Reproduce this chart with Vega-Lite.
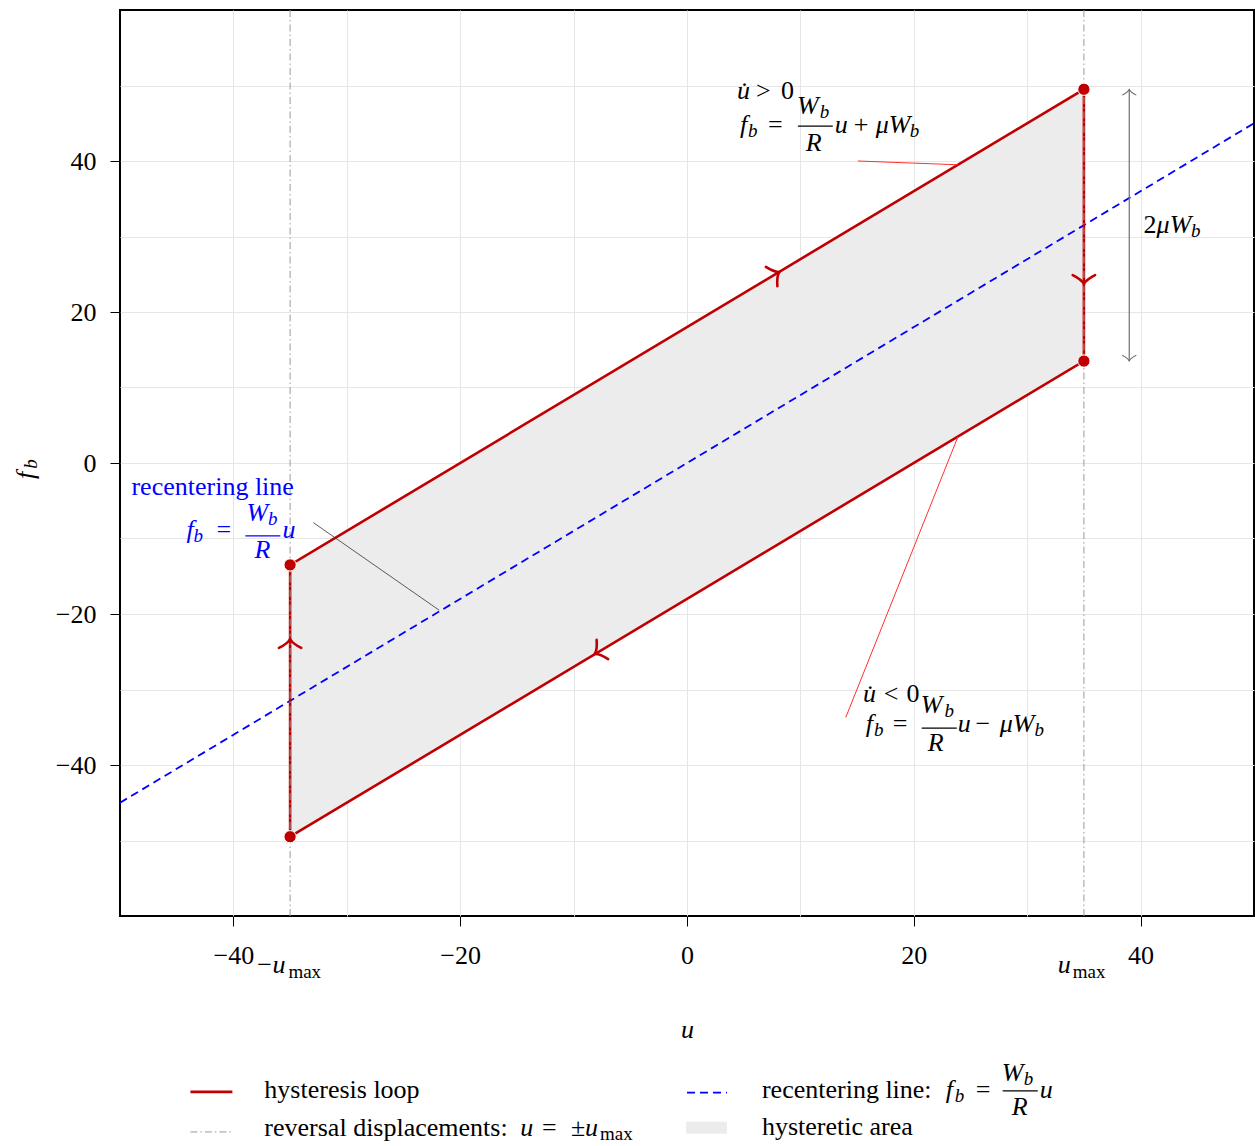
{
  "$schema": "https://vega.github.io/schema/vega-lite/v6.json",
  "width": 1134,
  "height": 906,
  "autosize": {"type": "none"},
  "padding": {"left": 120, "top": 10, "right": 1, "bottom": 230},
  "background": "white",
  "config": {
    "view": {"stroke": "black", "strokeWidth": 2},
    "font": "Liberation Serif",
    "axis": {"labelFont": "Liberation Serif", "titleFont": "Liberation Serif"},
    "text": {"font": "Liberation Serif"}
  },
  "datasets": {
    "band": [
      {"u": -35, "lower": -49.5, "upper": -13.5},
      {"u": 35, "lower": 13.5, "upper": 49.5}
    ],
    "loop": [
      {"step": 1, "u": -35, "f": -49.5},
      {"step": 2, "u": 35, "f": 13.5},
      {"step": 3, "u": 35, "f": 49.5},
      {"step": 4, "u": -35, "f": -13.5},
      {"step": 5, "u": -35, "f": -49.5}
    ],
    "recenter": [
      {"u": -50, "f": -45},
      {"u": 50, "f": 45}
    ],
    "reversal": [{"u": -35}, {"u": 35}],
    "corners": [
      {"u": 35, "f": 49.5},
      {"u": 35, "f": 13.5},
      {"u": -35, "f": -13.5},
      {"u": -35, "f": -49.5}
    ],
    "flow": [
      {"u": 7.8, "f": 25.0, "direction": "up-right"},
      {"u": 35, "f": 24.3, "direction": "down"},
      {"u": -7.8, "f": -25.0, "direction": "down-left"},
      {"u": -35, "f": -23.9, "direction": "up"}
    ],
    "span": [{"u": 39, "f": 49.5, "f2": 13.5}],
    "spanHeads": [
      {"u": 39, "f": 49.1, "direction": "up"},
      {"u": 39, "f": 13.9, "direction": "down"}
    ],
    "leaders": [
      {"u": 15.07, "f": 40.0, "u2": 23.9, "f2": 39.5, "group": "increasing"},
      {"u": 23.9, "f": 3.5, "u2": 14.0, "f2": -33.7, "group": "decreasing"},
      {"u": -32.95, "f": -7.9, "u2": -21.85, "f2": -19.5, "group": "recentering"}
    ],
    "bars": [
      {"u": 9.78, "u2": 12.86, "f": 44.62, "group": "increasing"},
      {"u": 20.7, "u2": 23.79, "f": -35.12, "group": "decreasing"},
      {"u": -38.94, "u2": -35.86, "f": -9.64, "group": "recentering"},
      {"u": 27.84, "u2": 30.93, "f": -83.17, "group": "legend"}
    ],
    "keys": [
      {"series": "hysteresis loop", "u": -43.79, "u2": -40.09, "f": -83.3},
      {"series": "reversal displacements", "u": -43.79, "u2": -40.09, "f": -88.6},
      {"series": "recentering line", "u": 0, "u2": 3.52, "f": -83.4},
      {"series": "hysteretic area", "u": -0.09, "u2": 3.52, "f": -87.26, "f2": -88.84}
    ],
    "labels": [
      {"text": "u̇", "u": 4.41, "f": 48.18, "face": "italic", "level": "main", "group": "increasing"},
      {"text": ">", "u": 6.08, "f": 48.18, "face": "roman", "level": "main", "group": "increasing"},
      {"text": "0", "u": 8.3, "f": 48.18, "face": "roman", "level": "main", "group": "increasing"},
      {"text": "f", "u": 4.67, "f": 43.7, "face": "italic", "level": "main", "group": "increasing"},
      {"text": "b", "u": 5.37, "f": 43.17, "face": "italic", "level": "sub", "group": "increasing"},
      {"text": "=", "u": 7.14, "f": 43.7, "face": "roman", "level": "main", "group": "increasing"},
      {"text": "W", "u": 9.69, "f": 46.2, "face": "italic", "level": "main", "group": "increasing"},
      {"text": "b", "u": 11.7, "f": 45.68, "face": "italic", "level": "sub", "group": "increasing"},
      {"text": "R", "u": 10.48, "f": 41.32, "face": "italic", "level": "main", "group": "increasing"},
      {"text": "u", "u": 13.04, "f": 43.7, "face": "italic", "level": "main", "group": "increasing"},
      {"text": "+", "u": 14.7, "f": 43.7, "face": "roman", "level": "main", "group": "increasing"},
      {"text": "μW", "u": 16.65, "f": 43.7, "face": "italic", "level": "main", "group": "increasing"},
      {"text": "b", "u": 19.65, "f": 43.17, "face": "italic", "level": "sub", "group": "increasing"},

      {"text": "u̇", "u": 15.51, "f": -31.68, "face": "italic", "level": "main", "group": "decreasing"},
      {"text": "<", "u": 17.36, "f": -31.68, "face": "roman", "level": "main", "group": "decreasing"},
      {"text": "0", "u": 19.35, "f": -31.68, "face": "roman", "level": "main", "group": "decreasing"},
      {"text": "f", "u": 15.77, "f": -35.64, "face": "italic", "level": "main", "group": "decreasing"},
      {"text": "b", "u": 16.48, "f": -36.17, "face": "italic", "level": "sub", "group": "decreasing"},
      {"text": "=", "u": 18.15, "f": -35.64, "face": "roman", "level": "main", "group": "decreasing"},
      {"text": "W", "u": 20.62, "f": -33.14, "face": "italic", "level": "main", "group": "decreasing"},
      {"text": "b", "u": 22.7, "f": -33.66, "face": "italic", "level": "sub", "group": "decreasing"},
      {"text": "R", "u": 21.23, "f": -38.15, "face": "italic", "level": "main", "group": "decreasing"},
      {"text": "u", "u": 23.88, "f": -35.64, "face": "italic", "level": "main", "group": "decreasing"},
      {"text": "−", "u": 25.45, "f": -35.64, "face": "roman", "level": "main", "group": "decreasing"},
      {"text": "μW", "u": 27.58, "f": -35.64, "face": "italic", "level": "main", "group": "decreasing"},
      {"text": "b", "u": 30.65, "f": -36.17, "face": "italic", "level": "sub", "group": "decreasing"},

      {"text": "recentering line", "u": -48.99, "f": -4.22, "face": "roman", "level": "main", "group": "recentering"},
      {"text": "f", "u": -44.14, "f": -9.9, "face": "italic", "level": "main", "group": "recentering"},
      {"text": "b", "u": -43.52, "f": -10.43, "face": "italic", "level": "sub", "group": "recentering"},
      {"text": "=", "u": -41.5, "f": -9.9, "face": "roman", "level": "main", "group": "recentering"},
      {"text": "W", "u": -38.85, "f": -7.7, "face": "italic", "level": "main", "group": "recentering"},
      {"text": "b", "u": -36.95, "f": -8.23, "face": "italic", "level": "sub", "group": "recentering"},
      {"text": "R", "u": -38.15, "f": -12.54, "face": "italic", "level": "main", "group": "recentering"},
      {"text": "u", "u": -35.68, "f": -9.9, "face": "italic", "level": "main", "group": "recentering"},

      {"text": "2", "u": 40.26, "f": 30.5, "face": "roman", "level": "main", "group": "amplitude"},
      {"text": "μW", "u": 41.41, "f": 30.5, "face": "italic", "level": "main", "group": "amplitude"},
      {"text": "b", "u": 44.45, "f": 29.97, "face": "italic", "level": "sub", "group": "amplitude"},

      {"text": "−", "u": -37.89, "f": -67.59, "face": "roman", "level": "main", "group": "axis"},
      {"text": "u", "u": -36.56, "f": -67.59, "face": "italic", "level": "main", "group": "axis"},
      {"text": "max", "u": -35.15, "f": -68.25, "face": "roman", "level": "sub", "group": "axis"},
      {"text": "u", "u": 32.69, "f": -67.59, "face": "italic", "level": "main", "group": "axis"},
      {"text": "max", "u": 34.01, "f": -68.25, "face": "roman", "level": "sub", "group": "axis"},

      {"text": "f", "u": -57.62, "f": -2.11, "face": "italic", "level": "main", "group": "ytitle"},
      {"text": "b", "u": -57.36, "f": -0.75, "face": "italic", "level": "sub", "group": "ytitle"},

      {"text": "hysteresis loop", "u": -37.27, "f": -84.09, "face": "roman", "level": "main", "group": "legend"},
      {"text": "reversal displacements:", "u": -37.27, "f": -89.11, "face": "roman", "level": "main", "group": "legend"},
      {"text": "u", "u": -14.71, "f": -89.11, "face": "italic", "level": "main", "group": "legend"},
      {"text": "=", "u": -12.78, "f": -89.11, "face": "roman", "level": "main", "group": "legend"},
      {"text": "±", "u": -10.22, "f": -89.11, "face": "roman", "level": "main", "group": "legend"},
      {"text": "u", "u": -8.99, "f": -89.11, "face": "italic", "level": "main", "group": "legend"},
      {"text": "max", "u": -7.67, "f": -89.64, "face": "roman", "level": "sub", "group": "legend"},
      {"text": "recentering line:", "u": 6.61, "f": -84.09, "face": "roman", "level": "main", "group": "legend"},
      {"text": "f", "u": 22.82, "f": -84.09, "face": "italic", "level": "main", "group": "legend"},
      {"text": "b", "u": 23.61, "f": -84.62, "face": "italic", "level": "sub", "group": "legend"},
      {"text": "=", "u": 25.46, "f": -84.09, "face": "roman", "level": "main", "group": "legend"},
      {"text": "W", "u": 27.75, "f": -81.85, "face": "italic", "level": "main", "group": "legend"},
      {"text": "b", "u": 29.7, "f": -82.38, "face": "italic", "level": "sub", "group": "legend"},
      {"text": "R", "u": 28.63, "f": -86.34, "face": "italic", "level": "main", "group": "legend"},
      {"text": "u", "u": 31.1, "f": -84.09, "face": "italic", "level": "main", "group": "legend"},
      {"text": "hysteretic area", "u": 6.61, "f": -88.98, "face": "roman", "level": "main", "group": "legend"}
    ]
  },
  "layer": [
    {
      "data": {"name": "band"},
      "mark": {"type": "area", "color": "#ececec", "opacity": 1},
      "encoding": {
        "x": {
          "field": "u", "type": "quantitative",
          "scale": {"domain": [-50, 50], "nice": false, "zero": false},
          "axis": {
            "title": "u",
            "values": [-40, -30, -20, -10, 0, 10, 20, 30, 40],
            "labelExpr": "datum.value % 20 === 0 ? datum.label : ''",
            "tickOpacity": {"condition": {"test": "datum.value % 20 !== 0", "value": 0}, "value": 1},
            "grid": true, "gridColor": "#e6e6e6", "gridWidth": 1,
            "domain": false,
            "tickColor": "black", "tickSize": 10, "tickWidth": 1,
            "labelFont": "Liberation Serif", "labelFontSize": 26, "labelColor": "black",
            "labelPadding": 16, "labelFlush": false, "labelOverlap": false,
            "titleFont": "Liberation Serif", "titleFontStyle": "italic", "titleFontWeight": "normal",
            "titleFontSize": 26, "titleColor": "black", "titlePadding": 48
          }
        },
        "y": {
          "field": "lower", "type": "quantitative",
          "scale": {"domain": [-60, 60], "nice": false, "zero": false},
          "axis": {
            "title": null,
            "values": [-50, -40, -30, -20, -10, 0, 10, 20, 30, 40, 50],
            "labelExpr": "datum.value % 20 === 0 ? datum.label : ''",
            "tickOpacity": {"condition": {"test": "datum.value % 20 !== 0", "value": 0}, "value": 1},
            "grid": true, "gridColor": "#e6e6e6", "gridWidth": 1,
            "domain": false,
            "tickColor": "black", "tickSize": 10, "tickWidth": 1,
            "labelFont": "Liberation Serif", "labelFontSize": 26, "labelColor": "black",
            "labelPadding": 14, "labelFlush": false, "labelOverlap": false
          }
        },
        "y2": {"field": "upper"}
      }
    },
    {
      "mark": {"type": "rule", "color": "black", "strokeWidth": 2},
      "encoding": {"x": {"datum": 0, "type": "quantitative"}}
    },
    {
      "mark": {"type": "rule", "color": "black", "strokeWidth": 2},
      "encoding": {"y": {"datum": 0, "type": "quantitative"}}
    },
    {
      "data": {"name": "recenter"},
      "mark": {"type": "line", "color": "#0000ff", "strokeWidth": 1.8, "strokeDash": [8, 5]},
      "encoding": {
        "x": {"field": "u", "type": "quantitative"},
        "y": {"field": "f", "type": "quantitative"}
      }
    },
    {
      "data": {"name": "loop"},
      "mark": {"type": "line", "color": "#c00000", "strokeWidth": 2.6},
      "encoding": {
        "x": {"field": "u", "type": "quantitative"},
        "y": {"field": "f", "type": "quantitative"},
        "order": {"field": "step", "type": "quantitative"}
      }
    },
    {
      "data": {"name": "reversal"},
      "mark": {"type": "rule", "color": "#999999", "strokeWidth": 1, "strokeDash": [7, 3, 1.5, 3]},
      "encoding": {"x": {"field": "u", "type": "quantitative"}}
    },
    {
      "data": {"name": "flow"},
      "mark": {"type": "point", "shape": "M -0.4 -1 Q 0 -0.2 0.4 0 Q 0 0.2 -0.4 1", "filled": false, "color": "#c00000", "strokeWidth": 2.6, "size": 500, "opacity": 1, "strokeCap": "round"},
      "encoding": {
        "x": {"field": "u", "type": "quantitative"},
        "y": {"field": "f", "type": "quantitative"},
        "angle": {"field": "direction", "type": "nominal", "scale": {"type": "ordinal", "domain": ["up-right", "down", "down-left", "up"], "range": [329, 90, 149, 270]}, "legend": null}
      }
    },
    {
      "data": {"name": "corners"},
      "mark": {"type": "point", "shape": "circle", "filled": true, "color": "#c00000", "stroke": "white", "strokeWidth": 1, "size": 150, "opacity": 1},
      "encoding": {
        "x": {"field": "u", "type": "quantitative"},
        "y": {"field": "f", "type": "quantitative"}
      }
    },
    {
      "data": {"name": "leaders"},
      "transform": [{"filter": "datum.group !== 'recentering'"}],
      "mark": {"type": "rule", "color": "#ff3030", "strokeWidth": 1},
      "encoding": {
        "x": {"field": "u", "type": "quantitative"},
        "y": {"field": "f", "type": "quantitative"},
        "x2": {"field": "u2"},
        "y2": {"field": "f2"}
      }
    },
    {
      "data": {"name": "leaders"},
      "transform": [{"filter": "datum.group === 'recentering'"}],
      "mark": {"type": "rule", "color": "#333333", "strokeWidth": 0.8},
      "encoding": {
        "x": {"field": "u", "type": "quantitative"},
        "y": {"field": "f", "type": "quantitative"},
        "x2": {"field": "u2"},
        "y2": {"field": "f2"}
      }
    },
    {
      "data": {"name": "span"},
      "mark": {"type": "rule", "color": "#707070", "strokeWidth": 1.2},
      "encoding": {
        "x": {"field": "u", "type": "quantitative"},
        "y": {"field": "f", "type": "quantitative"},
        "y2": {"field": "f2"}
      }
    },
    {
      "data": {"name": "spanHeads"},
      "mark": {"type": "point", "shape": "M -0.4 -1 Q 0 -0.2 0.4 0 Q 0 0.2 -0.4 1", "filled": false, "color": "#707070", "strokeWidth": 1.1, "size": 200, "opacity": 1},
      "encoding": {
        "x": {"field": "u", "type": "quantitative"},
        "y": {"field": "f", "type": "quantitative"},
        "angle": {"field": "direction", "type": "nominal", "scale": {"type": "ordinal", "domain": ["up-right", "down", "down-left", "up"], "range": [329, 90, 149, 270]}, "legend": null}
      }
    },
    {
      "data": {"name": "bars"},
      "transform": [{"filter": "datum.group !== 'recentering'"}],
      "mark": {"type": "rule", "color": "black", "strokeWidth": 1.2},
      "encoding": {
        "x": {"field": "u", "type": "quantitative"},
        "x2": {"field": "u2"},
        "y": {"field": "f", "type": "quantitative"}
      }
    },
    {
      "data": {"name": "bars"},
      "transform": [{"filter": "datum.group === 'recentering'"}],
      "mark": {"type": "rule", "color": "#0000ff", "strokeWidth": 1.2},
      "encoding": {
        "x": {"field": "u", "type": "quantitative"},
        "x2": {"field": "u2"},
        "y": {"field": "f", "type": "quantitative"}
      }
    },
    {
      "data": {"name": "keys"},
      "transform": [{"filter": "datum.series === 'hysteresis loop'"}],
      "mark": {"type": "rule", "color": "#c00000", "strokeWidth": 2.6},
      "encoding": {
        "x": {"field": "u", "type": "quantitative"},
        "x2": {"field": "u2"},
        "y": {"field": "f", "type": "quantitative"}
      }
    },
    {
      "data": {"name": "keys"},
      "transform": [{"filter": "datum.series === 'reversal displacements'"}],
      "mark": {"type": "rule", "color": "#999999", "strokeWidth": 1, "strokeDash": [7, 3, 1.5, 3]},
      "encoding": {
        "x": {"field": "u", "type": "quantitative"},
        "x2": {"field": "u2"},
        "y": {"field": "f", "type": "quantitative"}
      }
    },
    {
      "data": {"name": "keys"},
      "transform": [{"filter": "datum.series === 'recentering line'"}],
      "mark": {"type": "rule", "color": "#0000ff", "strokeWidth": 1.8, "strokeDash": [8, 5]},
      "encoding": {
        "x": {"field": "u", "type": "quantitative"},
        "x2": {"field": "u2"},
        "y": {"field": "f", "type": "quantitative"}
      }
    },
    {
      "data": {"name": "keys"},
      "transform": [{"filter": "datum.series === 'hysteretic area'"}],
      "mark": {"type": "rect", "color": "#ececec", "opacity": 1},
      "encoding": {
        "x": {"field": "u", "type": "quantitative"},
        "x2": {"field": "u2"},
        "y": {"field": "f", "type": "quantitative"},
        "y2": {"field": "f2"}
      }
    },
    {
      "data": {"name": "labels"},
      "transform": [{"filter": "datum.face === 'italic' && datum.group !== 'recentering' && datum.group !== 'ytitle'"}],
      "mark": {"type": "text", "align": "left", "baseline": "alphabetic", "font": "Liberation Serif", "fontStyle": "italic", "color": "black"},
      "encoding": {
        "x": {"field": "u", "type": "quantitative"},
        "y": {"field": "f", "type": "quantitative"},
        "text": {"field": "text"},
        "size": {"field": "level", "type": "nominal", "scale": {"type": "ordinal", "domain": ["main", "sub"], "range": [26, 19]}, "legend": null}
      }
    },
    {
      "data": {"name": "labels"},
      "transform": [{"filter": "datum.face === 'roman' && datum.group !== 'recentering'"}],
      "mark": {"type": "text", "align": "left", "baseline": "alphabetic", "font": "Liberation Serif", "color": "black"},
      "encoding": {
        "x": {"field": "u", "type": "quantitative"},
        "y": {"field": "f", "type": "quantitative"},
        "text": {"field": "text"},
        "size": {"field": "level", "type": "nominal", "scale": {"type": "ordinal", "domain": ["main", "sub"], "range": [26, 19]}, "legend": null}
      }
    },
    {
      "data": {"name": "labels"},
      "transform": [{"filter": "datum.face === 'italic' && datum.group === 'recentering'"}],
      "mark": {"type": "text", "align": "left", "baseline": "alphabetic", "font": "Liberation Serif", "fontStyle": "italic", "color": "#0000ff"},
      "encoding": {
        "x": {"field": "u", "type": "quantitative"},
        "y": {"field": "f", "type": "quantitative"},
        "text": {"field": "text"},
        "size": {"field": "level", "type": "nominal", "scale": {"type": "ordinal", "domain": ["main", "sub"], "range": [26, 19]}, "legend": null}
      }
    },
    {
      "data": {"name": "labels"},
      "transform": [{"filter": "datum.face === 'roman' && datum.group === 'recentering'"}],
      "mark": {"type": "text", "align": "left", "baseline": "alphabetic", "font": "Liberation Serif", "color": "#0000ff"},
      "encoding": {
        "x": {"field": "u", "type": "quantitative"},
        "y": {"field": "f", "type": "quantitative"},
        "text": {"field": "text"},
        "size": {"field": "level", "type": "nominal", "scale": {"type": "ordinal", "domain": ["main", "sub"], "range": [26, 19]}, "legend": null}
      }
    },
    {
      "data": {"name": "labels"},
      "transform": [{"filter": "datum.group === 'ytitle'"}],
      "mark": {"type": "text", "align": "left", "baseline": "alphabetic", "font": "Liberation Serif", "fontStyle": "italic", "color": "black", "angle": 270},
      "encoding": {
        "x": {"field": "u", "type": "quantitative"},
        "y": {"field": "f", "type": "quantitative"},
        "text": {"field": "text"},
        "size": {"field": "level", "type": "nominal", "scale": {"type": "ordinal", "domain": ["main", "sub"], "range": [26, 19]}, "legend": null}
      }
    }
  ]
}
